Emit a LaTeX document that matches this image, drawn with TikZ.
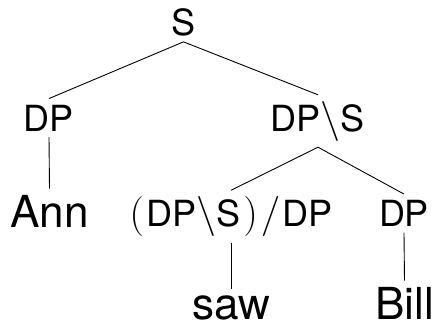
\RequirePackage{fix-cm}
\documentclass[tikz,border=0pt]{standalone}
\usepackage[no-math]{fontspec}
\setmainfont{TeX Gyre Heros}[Scale=0.9]
\newcommand{\under}{$\backslash$}
\newcommand{\lpar}{$($\kern3pt}
\newcommand{\rpar}{\kern3pt$)$\kern3pt$/$\kern2pt}
\begin{document}
\begin{tikzpicture}[x=1pt,y=-1pt,
    cat/.style={anchor=base,inner xsep=0pt,inner ysep=6pt,font=\fontsize{40}{48}\selectfont},
    word/.style={anchor=base,inner xsep=0pt,inner ysep=6pt,font=\fontsize{49}{56}\selectfont},
    branch/.style={line width=0.9pt}]
  \useasboundingbox (0,0) rectangle (434,325);
  % categories
  \node[cat] (s)   at (183.5,35) {S};
  \node[cat] (dpa) at (49,131)   {DP};
  \node[cat] (vp)  at (318,131)  {DP\under S};
  \node[cat] (tv)  at (231,226.5) {\lpar DP\under S\rpar DP};
  \node[cat] (dpb) at (404,226.5) {DP};
  % words
  \node[word] (ann)  at (49.5,227) {Ann};
  \node[word] (saw)  at (231,319)  {saw};
  \node[word] (bill) at (404.5,319) {Bill};
  % branches
  \draw[branch] (s.south) -- (dpa.north);
  \draw[branch] (s.south) -- (vp.north);
  \draw[branch] (dpa.south) -- (ann.north);
  \draw[branch] (vp.south) -- (tv.north);
  \draw[branch] (vp.south) -- (dpb.north);
  \draw[branch] (tv.south) -- (saw.north);
  \draw[branch] (dpb.south) -- (bill.north);
\end{tikzpicture}
\end{document}
